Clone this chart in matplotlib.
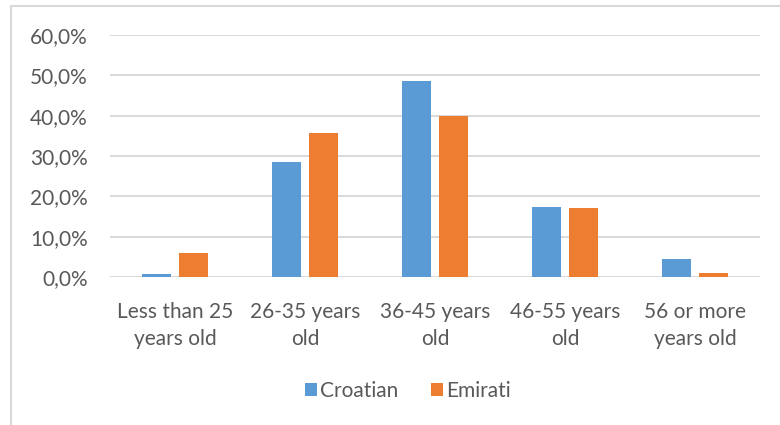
import numpy as np
import matplotlib
matplotlib.use("Agg")
import matplotlib.pyplot as plt
from matplotlib.patches import Rectangle

# age groups and share of respondents per nationality
categories = ["Less than 25\nyears old", "26-35 years\nold", "36-45 years\nold",
              "46-55 years\nold", "56 or more\nyears old"]
croatian = [0.8, 28.4, 48.6, 17.4, 4.5]
emirati = [6.0, 35.6, 39.8, 17.2, 0.9]
y_ticks = [0, 10, 20, 30, 40, 50, 60]
y_tick_labels = ["0,0%", "10,0%", "20,0%", "30,0%", "40,0%", "50,0%", "60,0%"]

plt.rcParams['font.family'] = ['Lato', 'DejaVu Sans']

blue = "#5B9BD5"
orange = "#ED7D31"
grid_col = "#D9D9D9"
text_col = "#595959"

fig = plt.figure(figsize=(7.8, 4.25), dpi=100)
ax = fig.add_axes([110 / 780, 1 - 277 / 425, 650 / 780, 242 / 425])

x = np.arange(len(categories))
w = 0.223
off = 0.139
ax.bar(x - off, croatian, w, color=blue, label="Croatian", zorder=3)
ax.bar(x + off, emirati, w, color=orange, label="Emirati", zorder=3)

ax.set_xlim(-0.5, len(categories) - 0.5)
ax.set_ylim(0, 60)
ax.set_yticks(y_ticks)
ax.set_yticklabels(y_tick_labels)
ax.set_xticks(x)
ax.set_xticklabels(categories, linespacing=1.45)
ax.yaxis.grid(True, color=grid_col, linewidth=1.4, zorder=0)
ax.set_axisbelow(True)
for s in ax.spines.values():
    s.set_visible(False)
ax.tick_params(axis='both', length=0, labelsize=15, colors=text_col)
ax.tick_params(axis='y', pad=16)
ax.tick_params(axis='x', pad=18)

leg = fig.legend(loc="center", bbox_to_anchor=(408 / 780, 1 - 391 / 425), ncol=2,
                 frameon=False, fontsize=15, handlelength=0.55, handleheight=0.55,
                 handletextpad=0.15, columnspacing=1.6)
for t in leg.get_texts():
    t.set_color(text_col)

# chart area border
fig.patches.append(Rectangle((11 / 780, -0.1), 1.2, 1 - 6 / 425 + 0.1,
                             transform=fig.transFigure, fill=False,
                             edgecolor=grid_col, linewidth=1.5))

fig.savefig("out.png", dpi=100)
